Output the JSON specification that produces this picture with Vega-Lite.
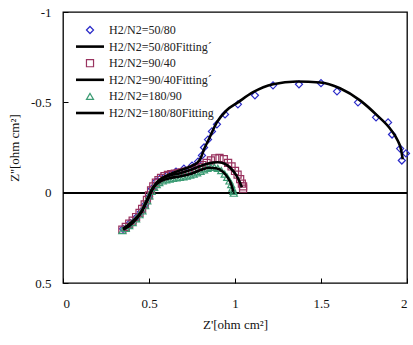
{
  "$schema": "https://vega.github.io/schema/vega-lite/v6.json",
  "width": 344,
  "height": 271,
  "autosize": {"type": "none"},
  "padding": {"left": 63, "top": 12, "right": 6, "bottom": 62},
  "background": "white",
  "config": {
    "view": {"stroke": "#000", "strokeWidth": 1.3},
    "font": "Liberation Serif",
    "axis": {
      "domain": false,
      "grid": false,
      "tickSize": -5,
      "tickColor": "#000",
      "tickWidth": 1,
      "labelFont": "Liberation Serif",
      "labelFontSize": 13,
      "labelColor": "#111",
      "titleFont": "Liberation Serif",
      "titleFontSize": 13,
      "titleFontWeight": "normal",
      "titleColor": "#111"
    }
  },
  "data": {
    "values": [
      {"s": "H2/N2=50/80", "k": "d", "x": 0.349, "y": 0.2},
      {"s": "H2/N2=50/80", "k": "d", "x": 0.39, "y": 0.167},
      {"s": "H2/N2=50/80", "k": "d", "x": 0.424, "y": 0.139},
      {"s": "H2/N2=50/80", "k": "d", "x": 0.453, "y": 0.106},
      {"s": "H2/N2=50/80", "k": "d", "x": 0.477, "y": 0.067},
      {"s": "H2/N2=50/80", "k": "d", "x": 0.5, "y": 0.022},
      {"s": "H2/N2=50/80", "k": "d", "x": 0.517, "y": -0.022},
      {"s": "H2/N2=50/80", "k": "d", "x": 0.541, "y": -0.061},
      {"s": "H2/N2=50/80", "k": "d", "x": 0.57, "y": -0.083},
      {"s": "H2/N2=50/80", "k": "d", "x": 0.61, "y": -0.1},
      {"s": "H2/N2=50/80", "k": "d", "x": 0.657, "y": -0.117},
      {"s": "H2/N2=50/80", "k": "d", "x": 0.703, "y": -0.133},
      {"s": "H2/N2=50/80", "k": "d", "x": 0.75, "y": -0.15},
      {"s": "H2/N2=50/80", "k": "d", "x": 0.785, "y": -0.172},
      {"s": "H2/N2=50/80", "k": "d", "x": 0.808, "y": -0.206},
      {"s": "H2/N2=50/80", "k": "d", "x": 0.82, "y": -0.25},
      {"s": "H2/N2=50/80", "k": "d", "x": 0.843, "y": -0.294},
      {"s": "H2/N2=50/80", "k": "d", "x": 0.866, "y": -0.339},
      {"s": "H2/N2=50/80", "k": "d", "x": 0.895, "y": -0.378},
      {"s": "H2/N2=50/80", "k": "d", "x": 0.942, "y": -0.433},
      {"s": "H2/N2=50/80", "k": "d", "x": 1.017, "y": -0.489},
      {"s": "H2/N2=50/80", "k": "d", "x": 1.116, "y": -0.539},
      {"s": "H2/N2=50/80", "k": "d", "x": 1.221, "y": -0.594},
      {"s": "H2/N2=50/80", "k": "d", "x": 1.372, "y": -0.6},
      {"s": "H2/N2=50/80", "k": "d", "x": 1.5, "y": -0.606},
      {"s": "H2/N2=50/80", "k": "d", "x": 1.593, "y": -0.561},
      {"s": "H2/N2=50/80", "k": "d", "x": 1.715, "y": -0.5},
      {"s": "H2/N2=50/80", "k": "d", "x": 1.82, "y": -0.417},
      {"s": "H2/N2=50/80", "k": "d", "x": 1.89, "y": -0.389},
      {"s": "H2/N2=50/80", "k": "d", "x": 1.913, "y": -0.322},
      {"s": "H2/N2=50/80", "k": "d", "x": 1.96, "y": -0.244},
      {"s": "H2/N2=50/80", "k": "d", "x": 1.994, "y": -0.217},
      {"s": "H2/N2=50/80", "k": "d", "x": 1.97, "y": -0.178},

      {"s": "H2/N2=90/40", "k": "d", "x": 0.345, "y": 0.205},
      {"s": "H2/N2=90/40", "k": "d", "x": 0.365, "y": 0.19},
      {"s": "H2/N2=90/40", "k": "d", "x": 0.385, "y": 0.172},
      {"s": "H2/N2=90/40", "k": "d", "x": 0.405, "y": 0.155},
      {"s": "H2/N2=90/40", "k": "d", "x": 0.425, "y": 0.135},
      {"s": "H2/N2=90/40", "k": "d", "x": 0.445, "y": 0.112},
      {"s": "H2/N2=90/40", "k": "d", "x": 0.46, "y": 0.09},
      {"s": "H2/N2=90/40", "k": "d", "x": 0.475, "y": 0.065},
      {"s": "H2/N2=90/40", "k": "d", "x": 0.488, "y": 0.04},
      {"s": "H2/N2=90/40", "k": "d", "x": 0.5, "y": 0.015},
      {"s": "H2/N2=90/40", "k": "d", "x": 0.512, "y": -0.012},
      {"s": "H2/N2=90/40", "k": "d", "x": 0.525, "y": -0.035},
      {"s": "H2/N2=90/40", "k": "d", "x": 0.54, "y": -0.055},
      {"s": "H2/N2=90/40", "k": "d", "x": 0.555, "y": -0.07},
      {"s": "H2/N2=90/40", "k": "d", "x": 0.57, "y": -0.082},
      {"s": "H2/N2=90/40", "k": "d", "x": 0.59, "y": -0.092},
      {"s": "H2/N2=90/40", "k": "d", "x": 0.61, "y": -0.098},
      {"s": "H2/N2=90/40", "k": "d", "x": 0.63, "y": -0.102},
      {"s": "H2/N2=90/40", "k": "d", "x": 0.65, "y": -0.106},
      {"s": "H2/N2=90/40", "k": "d", "x": 0.67, "y": -0.109},
      {"s": "H2/N2=90/40", "k": "d", "x": 0.69, "y": -0.112},
      {"s": "H2/N2=90/40", "k": "d", "x": 0.71, "y": -0.116},
      {"s": "H2/N2=90/40", "k": "d", "x": 0.73, "y": -0.121},
      {"s": "H2/N2=90/40", "k": "d", "x": 0.75, "y": -0.127},
      {"s": "H2/N2=90/40", "k": "d", "x": 0.77, "y": -0.134},
      {"s": "H2/N2=90/40", "k": "d", "x": 0.79, "y": -0.143},
      {"s": "H2/N2=90/40", "k": "d", "x": 0.81, "y": -0.153},
      {"s": "H2/N2=90/40", "k": "d", "x": 0.835, "y": -0.165},
      {"s": "H2/N2=90/40", "k": "d", "x": 0.86, "y": -0.178},
      {"s": "H2/N2=90/40", "k": "d", "x": 0.885, "y": -0.19},
      {"s": "H2/N2=90/40", "k": "d", "x": 0.91, "y": -0.192},
      {"s": "H2/N2=90/40", "k": "d", "x": 0.935, "y": -0.185},
      {"s": "H2/N2=90/40", "k": "d", "x": 0.96, "y": -0.165},
      {"s": "H2/N2=90/40", "k": "d", "x": 0.98, "y": -0.145},
      {"s": "H2/N2=90/40", "k": "d", "x": 1.0, "y": -0.12},
      {"s": "H2/N2=90/40", "k": "d", "x": 1.015, "y": -0.1},
      {"s": "H2/N2=90/40", "k": "d", "x": 1.03, "y": -0.075},
      {"s": "H2/N2=90/40", "k": "d", "x": 1.04, "y": -0.05},
      {"s": "H2/N2=90/40", "k": "d", "x": 1.047, "y": -0.035},
      {"s": "H2/N2=90/40", "k": "d", "x": 1.047, "y": -0.022},

      {"s": "H2/N2=180/90", "k": "d", "x": 0.345, "y": 0.21},
      {"s": "H2/N2=180/90", "k": "d", "x": 0.365, "y": 0.198},
      {"s": "H2/N2=180/90", "k": "d", "x": 0.385, "y": 0.182},
      {"s": "H2/N2=180/90", "k": "d", "x": 0.405, "y": 0.165},
      {"s": "H2/N2=180/90", "k": "d", "x": 0.425, "y": 0.145},
      {"s": "H2/N2=180/90", "k": "d", "x": 0.445, "y": 0.122},
      {"s": "H2/N2=180/90", "k": "d", "x": 0.462, "y": 0.1},
      {"s": "H2/N2=180/90", "k": "d", "x": 0.478, "y": 0.072},
      {"s": "H2/N2=180/90", "k": "d", "x": 0.49, "y": 0.045},
      {"s": "H2/N2=180/90", "k": "d", "x": 0.502, "y": 0.018},
      {"s": "H2/N2=180/90", "k": "d", "x": 0.515, "y": -0.008},
      {"s": "H2/N2=180/90", "k": "d", "x": 0.53, "y": -0.03},
      {"s": "H2/N2=180/90", "k": "d", "x": 0.545, "y": -0.045},
      {"s": "H2/N2=180/90", "k": "d", "x": 0.56, "y": -0.056},
      {"s": "H2/N2=180/90", "k": "d", "x": 0.58, "y": -0.065},
      {"s": "H2/N2=180/90", "k": "d", "x": 0.6, "y": -0.071},
      {"s": "H2/N2=180/90", "k": "d", "x": 0.62, "y": -0.075},
      {"s": "H2/N2=180/90", "k": "d", "x": 0.64, "y": -0.079},
      {"s": "H2/N2=180/90", "k": "d", "x": 0.66, "y": -0.082},
      {"s": "H2/N2=180/90", "k": "d", "x": 0.68, "y": -0.085},
      {"s": "H2/N2=180/90", "k": "d", "x": 0.7, "y": -0.088},
      {"s": "H2/N2=180/90", "k": "d", "x": 0.72, "y": -0.092},
      {"s": "H2/N2=180/90", "k": "d", "x": 0.74, "y": -0.097},
      {"s": "H2/N2=180/90", "k": "d", "x": 0.76, "y": -0.103},
      {"s": "H2/N2=180/90", "k": "d", "x": 0.78, "y": -0.11},
      {"s": "H2/N2=180/90", "k": "d", "x": 0.8, "y": -0.118},
      {"s": "H2/N2=180/90", "k": "d", "x": 0.82, "y": -0.127},
      {"s": "H2/N2=180/90", "k": "d", "x": 0.84, "y": -0.135},
      {"s": "H2/N2=180/90", "k": "d", "x": 0.86, "y": -0.14},
      {"s": "H2/N2=180/90", "k": "d", "x": 0.88, "y": -0.14},
      {"s": "H2/N2=180/90", "k": "d", "x": 0.9, "y": -0.135},
      {"s": "H2/N2=180/90", "k": "d", "x": 0.92, "y": -0.122},
      {"s": "H2/N2=180/90", "k": "d", "x": 0.94, "y": -0.103},
      {"s": "H2/N2=180/90", "k": "d", "x": 0.955, "y": -0.085},
      {"s": "H2/N2=180/90", "k": "d", "x": 0.968, "y": -0.065},
      {"s": "H2/N2=180/90", "k": "d", "x": 0.978, "y": -0.045},
      {"s": "H2/N2=180/90", "k": "d", "x": 0.985, "y": -0.025},
      {"s": "H2/N2=180/90", "k": "d", "x": 0.99, "y": -0.008},
      {"s": "H2/N2=180/90", "k": "d", "x": 0.993, "y": 0.003},

      {"s": "H2/N2=50/80Fitting´", "k": "f", "x": 0.35, "y": 0.2},
      {"s": "H2/N2=50/80Fitting´", "k": "f", "x": 0.39, "y": 0.17},
      {"s": "H2/N2=50/80Fitting´", "k": "f", "x": 0.43, "y": 0.135},
      {"s": "H2/N2=50/80Fitting´", "k": "f", "x": 0.46, "y": 0.1},
      {"s": "H2/N2=50/80Fitting´", "k": "f", "x": 0.48, "y": 0.06},
      {"s": "H2/N2=50/80Fitting´", "k": "f", "x": 0.5, "y": 0.02},
      {"s": "H2/N2=50/80Fitting´", "k": "f", "x": 0.52, "y": -0.02},
      {"s": "H2/N2=50/80Fitting´", "k": "f", "x": 0.545, "y": -0.055},
      {"s": "H2/N2=50/80Fitting´", "k": "f", "x": 0.575, "y": -0.08},
      {"s": "H2/N2=50/80Fitting´", "k": "f", "x": 0.61, "y": -0.098},
      {"s": "H2/N2=50/80Fitting´", "k": "f", "x": 0.65, "y": -0.113},
      {"s": "H2/N2=50/80Fitting´", "k": "f", "x": 0.7, "y": -0.13},
      {"s": "H2/N2=50/80Fitting´", "k": "f", "x": 0.75, "y": -0.148},
      {"s": "H2/N2=50/80Fitting´", "k": "f", "x": 0.78, "y": -0.165},
      {"s": "H2/N2=50/80Fitting´", "k": "f", "x": 0.8, "y": -0.19},
      {"s": "H2/N2=50/80Fitting´", "k": "f", "x": 0.82, "y": -0.24},
      {"s": "H2/N2=50/80Fitting´", "k": "f", "x": 0.85, "y": -0.3},
      {"s": "H2/N2=50/80Fitting´", "k": "f", "x": 0.895, "y": -0.39},
      {"s": "H2/N2=50/80Fitting´", "k": "f", "x": 0.95, "y": -0.455},
      {"s": "H2/N2=50/80Fitting´", "k": "f", "x": 1.017, "y": -0.5},
      {"s": "H2/N2=50/80Fitting´", "k": "f", "x": 1.105, "y": -0.556},
      {"s": "H2/N2=50/80Fitting´", "k": "f", "x": 1.221, "y": -0.6},
      {"s": "H2/N2=50/80Fitting´", "k": "f", "x": 1.36, "y": -0.615},
      {"s": "H2/N2=50/80Fitting´", "k": "f", "x": 1.494, "y": -0.61},
      {"s": "H2/N2=50/80Fitting´", "k": "f", "x": 1.61, "y": -0.578},
      {"s": "H2/N2=50/80Fitting´", "k": "f", "x": 1.727, "y": -0.511},
      {"s": "H2/N2=50/80Fitting´", "k": "f", "x": 1.826, "y": -0.428},
      {"s": "H2/N2=50/80Fitting´", "k": "f", "x": 1.9, "y": -0.356},
      {"s": "H2/N2=50/80Fitting´", "k": "f", "x": 1.945, "y": -0.29},
      {"s": "H2/N2=50/80Fitting´", "k": "f", "x": 1.965, "y": -0.24},
      {"s": "H2/N2=50/80Fitting´", "k": "f", "x": 1.975, "y": -0.185},

      {"s": "H2/N2=90/40Fitting´", "k": "f", "x": 0.35, "y": 0.2},
      {"s": "H2/N2=90/40Fitting´", "k": "f", "x": 0.39, "y": 0.175},
      {"s": "H2/N2=90/40Fitting´", "k": "f", "x": 0.43, "y": 0.14},
      {"s": "H2/N2=90/40Fitting´", "k": "f", "x": 0.46, "y": 0.1},
      {"s": "H2/N2=90/40Fitting´", "k": "f", "x": 0.48, "y": 0.06},
      {"s": "H2/N2=90/40Fitting´", "k": "f", "x": 0.5, "y": 0.02},
      {"s": "H2/N2=90/40Fitting´", "k": "f", "x": 0.52, "y": -0.02},
      {"s": "H2/N2=90/40Fitting´", "k": "f", "x": 0.545, "y": -0.055},
      {"s": "H2/N2=90/40Fitting´", "k": "f", "x": 0.575, "y": -0.078},
      {"s": "H2/N2=90/40Fitting´", "k": "f", "x": 0.62, "y": -0.095},
      {"s": "H2/N2=90/40Fitting´", "k": "f", "x": 0.68, "y": -0.108},
      {"s": "H2/N2=90/40Fitting´", "k": "f", "x": 0.74, "y": -0.125},
      {"s": "H2/N2=90/40Fitting´", "k": "f", "x": 0.8, "y": -0.148},
      {"s": "H2/N2=90/40Fitting´", "k": "f", "x": 0.85, "y": -0.163},
      {"s": "H2/N2=90/40Fitting´", "k": "f", "x": 0.9, "y": -0.168},
      {"s": "H2/N2=90/40Fitting´", "k": "f", "x": 0.94, "y": -0.16},
      {"s": "H2/N2=90/40Fitting´", "k": "f", "x": 0.975, "y": -0.135},
      {"s": "H2/N2=90/40Fitting´", "k": "f", "x": 1.005, "y": -0.1},
      {"s": "H2/N2=90/40Fitting´", "k": "f", "x": 1.025, "y": -0.065},
      {"s": "H2/N2=90/40Fitting´", "k": "f", "x": 1.04, "y": -0.03},

      {"s": "H2/N2=180/80Fitting", "k": "f", "x": 0.35, "y": 0.205},
      {"s": "H2/N2=180/80Fitting", "k": "f", "x": 0.39, "y": 0.18},
      {"s": "H2/N2=180/80Fitting", "k": "f", "x": 0.43, "y": 0.14},
      {"s": "H2/N2=180/80Fitting", "k": "f", "x": 0.46, "y": 0.1},
      {"s": "H2/N2=180/80Fitting", "k": "f", "x": 0.48, "y": 0.06},
      {"s": "H2/N2=180/80Fitting", "k": "f", "x": 0.5, "y": 0.02},
      {"s": "H2/N2=180/80Fitting", "k": "f", "x": 0.515, "y": -0.015},
      {"s": "H2/N2=180/80Fitting", "k": "f", "x": 0.54, "y": -0.045},
      {"s": "H2/N2=180/80Fitting", "k": "f", "x": 0.57, "y": -0.065},
      {"s": "H2/N2=180/80Fitting", "k": "f", "x": 0.62, "y": -0.08},
      {"s": "H2/N2=180/80Fitting", "k": "f", "x": 0.68, "y": -0.09},
      {"s": "H2/N2=180/80Fitting", "k": "f", "x": 0.74, "y": -0.103},
      {"s": "H2/N2=180/80Fitting", "k": "f", "x": 0.8, "y": -0.125},
      {"s": "H2/N2=180/80Fitting", "k": "f", "x": 0.85, "y": -0.138},
      {"s": "H2/N2=180/80Fitting", "k": "f", "x": 0.89, "y": -0.135},
      {"s": "H2/N2=180/80Fitting", "k": "f", "x": 0.93, "y": -0.115},
      {"s": "H2/N2=180/80Fitting", "k": "f", "x": 0.96, "y": -0.08},
      {"s": "H2/N2=180/80Fitting", "k": "f", "x": 0.98, "y": -0.04},
      {"s": "H2/N2=180/80Fitting", "k": "f", "x": 0.99, "y": -0.005}
    ]
  },
  "encoding": {
    "x": {
      "field": "x",
      "type": "quantitative",
      "scale": {"domain": [0, 2], "nice": false, "zero": false},
      "axis": {
        "title": "Z'[ohm cm²]",
        "values": [0, 0.5, 1, 1.5, 2],
        "labelExpr": "'' + datum.value",
        "labelPadding": 19,
        "titlePadding": 8
      }
    },
    "y": {
      "field": "y",
      "type": "quantitative",
      "scale": {"domain": [0.5, -1], "nice": false, "zero": false},
      "axis": {
        "title": "Z''[ohm cm²]",
        "values": [-1, -0.5, 0, 0.5],
        "labelExpr": "'' + datum.value",
        "labelPadding": 17,
        "titlePadding": 9
      }
    }
  },
  "layer": [
    {
      "mark": {"type": "rule", "color": "#000", "strokeWidth": 1.5},
      "encoding": {"y": {"datum": 0}, "x": {"value": 0}, "x2": {"value": 344}}
    },
    {
      "transform": [{"filter": "datum.k === 'd'"}],
      "mark": {"type": "point", "filled": false, "opacity": 1},
      "encoding": {
        "color": {
          "field": "s",
          "type": "nominal",
          "scale": {
            "domain": ["H2/N2=50/80", "H2/N2=50/80Fitting´", "H2/N2=90/40", "H2/N2=90/40Fitting´", "H2/N2=180/90", "H2/N2=180/80Fitting"],
            "range": ["#2b2bc8", "#000000", "#99335f", "#000000", "#3c9c74", "#000000"]
          },
          "legend": {
            "title": null,
            "orient": "none",
            "legendX": 21,
            "legendY": 12,
            "padding": 0,
            "rowPadding": 4.6,
            "labelOffset": 13,
            "labelFont": "Liberation Serif",
            "labelFontSize": 12,
            "labelColor": "#222",
            "labelLimit": 300
          }
        },
        "shape": {
          "field": "s",
          "type": "nominal",
          "scale": {
            "domain": ["H2/N2=50/80", "H2/N2=50/80Fitting´", "H2/N2=90/40", "H2/N2=90/40Fitting´", "H2/N2=180/90", "H2/N2=180/80Fitting"],
            "range": ["diamond", "M-4,0H4", "square", "M-4,0H4", "triangle-up", "M-4,0H4"]
          }
        },
        "size": {
          "field": "s",
          "type": "nominal",
          "scale": {
            "type": "ordinal",
            "domain": ["H2/N2=50/80", "H2/N2=50/80Fitting´", "H2/N2=90/40", "H2/N2=90/40Fitting´", "H2/N2=180/90", "H2/N2=180/80Fitting"],
            "range": [50, 49, 50, 49, 50, 49]
          }
        },
        "strokeWidth": {
          "field": "s",
          "type": "nominal",
          "scale": {
            "type": "ordinal",
            "domain": ["H2/N2=50/80", "H2/N2=50/80Fitting´", "H2/N2=90/40", "H2/N2=90/40Fitting´", "H2/N2=180/90", "H2/N2=180/80Fitting"],
            "range": [1.2, 2.6, 1.2, 2.6, 1.2, 2.6]
          }
        }
      }
    },
    {
      "transform": [{"filter": "datum.k === 'f'"}],
      "mark": {"type": "line", "interpolate": "monotone", "color": "#000", "strokeWidth": 2.6},
      "encoding": {
        "detail": {"field": "s", "type": "nominal"}
      }
    }
  ]
}
